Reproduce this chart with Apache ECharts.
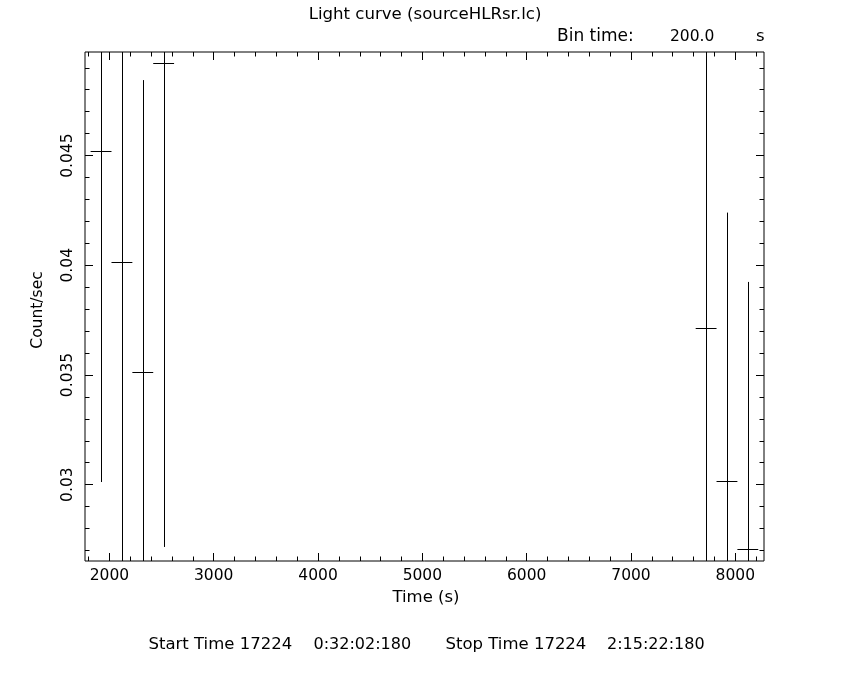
<!DOCTYPE html>
<html>
<head>
<meta charset="utf-8">
<script src="https://cdn.jsdelivr.net/npm/echarts@6/dist/echarts.min.js"></script>
<style>
html,body{margin:0;padding:0;background:#fff;}
#c{width:850px;height:680px;}
</style>
</head>
<body>
<div id="c"></div>
<script>
// ---- data ----
const times  = [1920, 2120, 2320, 2520, 7720, 7920, 8120];          // bin centres (s)
const rates  = [0.04520, 0.04017, 0.03514, 0.04920, 0.03714, 0.03015, 0.02708]; // count/sec
const errors = [0.01508, 0.01450, 0.01330, 0.02204, 0.01350, 0.01225, 0.01216];  // 1-sigma
const halfBin = [100, 100, 100, 100, 100, 100, 100];                 // half bin width (s)

const xMajorTicks = [2000, 3000, 4000, 5000, 6000, 7000, 8000];
const xMinorTicks = [1800, 2200, 2400, 2600, 2800, 3200, 3400, 3600, 3800, 4200, 4400, 4600, 4800,
                     5200, 5400, 5600, 5800, 6200, 6400, 6600, 6800, 7200, 7400, 7600, 7800, 8200];
const yMajorTicks = [0.03, 0.035, 0.04, 0.045];
const yMinorTicks = [0.027, 0.028, 0.029, 0.031, 0.032, 0.033, 0.034, 0.036, 0.037, 0.038, 0.039,
                     0.041, 0.042, 0.043, 0.044, 0.046, 0.047, 0.048, 0.049];

const xMin = 1766, xMax = 8275;
const yMin = 0.02652, yMax = 0.04972;

const FONT = 'DejaVu Sans';
const chart = echarts.init(document.getElementById('c'), null, {renderer: 'canvas'});

function xAxisDef(pos, ticks, len, labels) {
  return {
    type: 'value', position: pos, min: xMin, max: xMax,
    axisLine: {show: false, onZero: false},
    splitLine: {show: false},
    axisTick: {show: true, inside: true, length: len, customValues: ticks, lineStyle: {color: '#000', width: 1}},
    axisLabel: labels ? {show: true, customValues: ticks, color: '#000', fontFamily: FONT, fontSize: 15.5, margin: 7,
                          formatter: v => String(Math.round(v))} : {show: false}
  };
}
function yAxisDef(pos, ticks, len, labels) {
  return {
    type: 'value', position: pos, min: yMin, max: yMax,
    axisLine: {show: false, onZero: false},
    splitLine: {show: false},
    axisTick: {show: true, inside: true, length: len, customValues: ticks, lineStyle: {color: '#000', width: 1}},
    axisLabel: labels ? {show: true, customValues: ticks, rotate: 90, color: '#000', fontFamily: FONT, fontSize: 15.5, margin: 9,
                          formatter: v => String(+v.toFixed(3))} : {show: false}
  };
}

const seriesData = times.map((t, i) => [t, rates[i], errors[i], halfBin[i]]);

function txt(s, x, y, align, size, rot) {
  return {type: 'text', x: x, y: y, rotation: rot || 0,
          style: {text: s, fill: '#000', font: size + 'px "DejaVu Sans"', textAlign: align, textVerticalAlign: 'middle'}};
}

const option = {
  backgroundColor: '#fff',
  animation: false,
  grid: {left: 85, top: 52, right: 86, bottom: 119, show: true, borderColor: '#000', borderWidth: 1, backgroundColor: 'transparent'},
  xAxis: [
    xAxisDef('bottom', xMajorTicks, 8, true),
    xAxisDef('bottom', xMinorTicks, 4.5, false),
    xAxisDef('top', xMajorTicks, 8, false),
    xAxisDef('top', xMinorTicks, 4.5, false)
  ],
  yAxis: [
    yAxisDef('left', yMajorTicks, 8, true),
    yAxisDef('left', yMinorTicks, 4.5, false),
    yAxisDef('right', yMajorTicks, 8, false),
    yAxisDef('right', yMinorTicks, 4.5, false)
  ],
  series: [{
    type: 'custom',
    xAxisIndex: 0, yAxisIndex: 0,
    data: seriesData,
    renderItem: function (params, api) {
      const t = api.value(0), c = api.value(1), e = api.value(2), hb = api.value(3);
      const lo = Math.max(c - e, yMin), hi = Math.min(c + e, yMax);
      const p1 = api.coord([t, lo]), p2 = api.coord([t, hi]);
      const h1 = api.coord([Math.max(t - hb, xMin), c]), h2 = api.coord([Math.min(t + hb, xMax), c]);
      const vx = Math.round(p1[0]) + 0.5, hy = Math.round(h1[1]) + 0.5;
      return {
        type: 'group',
        children: [
          {type: 'line', shape: {x1: vx, y1: p1[1], x2: vx, y2: p2[1]}, style: {stroke: '#000', lineWidth: 1}},
          {type: 'line', shape: {x1: h1[0], y1: hy, x2: h2[0], y2: hy}, style: {stroke: '#000', lineWidth: 1}}
        ]
      };
    }
  }],
  graphic: [
    txt('Light curve (sourceHLRsr.lc)', 425, 15, 'center', 16.6),
    txt('Bin time:', 557, 37, 'left', 17),
    txt('200.0', 670, 37, 'left', 15.5),
    txt('s', 756, 37, 'left', 16.5),
    txt('Time (s)', 426, 598, 'center', 16.5),
    txt('Count/sec', 38, 310, 'center', 15.5, Math.PI / 2),
    txt('Start Time 17224', 148.5, 645, 'left', 16.5),
    txt('0:32:02:180', 313.5, 645, 'left', 16),
    txt('Stop Time 17224', 445.5, 645, 'left', 16.5),
    txt('2:15:22:180', 607, 645, 'left', 16)
  ]
};
chart.setOption(option);
</script>
</body>
</html>
